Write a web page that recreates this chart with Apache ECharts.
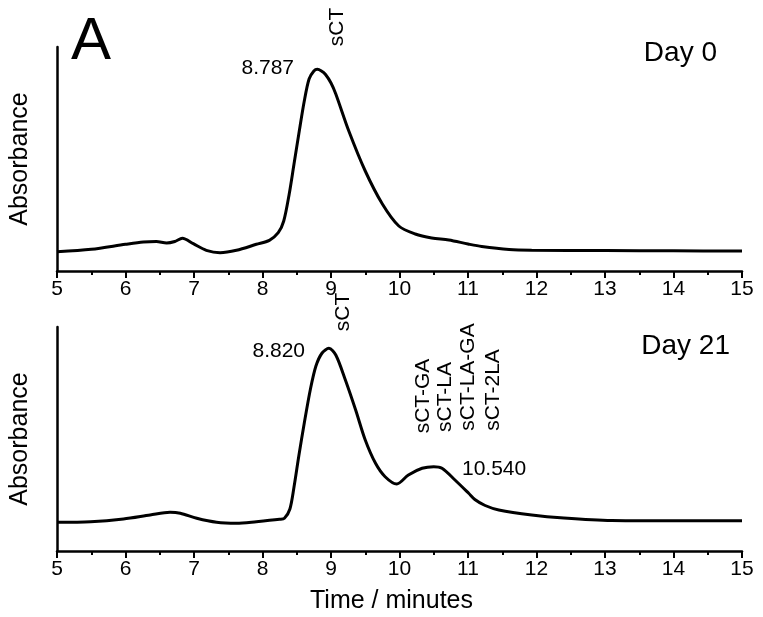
<!DOCTYPE html>
<html>
<head>
<meta charset="utf-8">
<script src="https://cdn.jsdelivr.net/npm/echarts@6/dist/echarts.min.js"></script>
<style>
  html, body { margin: 0; padding: 0; background: #fff; }
  #chart { width: 763px; height: 617px; }
</style>
</head>
<body>
<div id="chart"></div>
<script>
// retention time (min) and absorbance (arbitrary units)
const timeDay0 = [5.0, 5.5, 6.0, 6.26, 6.45, 6.6, 6.72, 6.83, 6.99, 7.18, 7.38, 7.62, 7.91, 8.1, 8.23, 8.31, 8.39, 8.46, 8.53, 8.61, 8.68, 8.75, 8.8, 8.86, 8.92, 9.0, 9.07, 9.26, 9.5, 9.75, 9.99, 10.23, 10.47, 10.72, 11.0, 11.2, 11.6, 11.93, 13.0, 14.0, 15.0]
const absDay0 = [19.3, 21.7, 26.7, 29, 29.5, 28, 29.5, 32.7, 27.3, 20.7, 18.3, 20.7, 26.7, 30.7, 38.3, 50, 77, 107, 137, 170, 192, 200, 201.7, 200, 196.5, 188, 177, 140, 100, 67, 45, 37, 33, 31, 27, 24.5, 21.5, 20.8, 20.5, 20.2, 20.0]

const timeDay21 = [5.0, 5.49, 5.97, 6.36, 6.65, 6.8, 7.04, 7.33, 7.62, 7.91, 8.25, 8.32, 8.4, 8.46, 8.53, 8.61, 8.7, 8.78, 8.87, 8.97, 9.07, 9.21, 9.36, 9.5, 9.65, 9.79, 9.96, 10.13, 10.33, 10.5, 10.62, 10.81, 11.01, 11.1, 11.25, 11.45, 11.93, 12.4, 13.1, 13.6, 15.0]
const absDay21 = [28.7, 29.3, 32, 36, 38.7, 37.7, 32.7, 28.7, 27.7, 29.3, 31.7, 32.7, 42, 64, 95, 128, 162, 185, 198, 202.7, 196, 171, 141, 111, 87.7, 74.3, 67, 76, 82.7, 84.3, 82.7, 71, 57.7, 51.5, 45.5, 41, 36, 33, 30.5, 30.3, 30.3]

const xTicks = [5, 6, 7, 8, 9, 10, 11, 12, 13, 14, 15]

const FONT = 'Liberation Sans, Arial, sans-serif'

const pairs = (xs, ys) => xs.map((x, i) => [x, ys[i]])

function xAxisFor(gridIndex, withName) {
  return {
    type: 'value',
    gridIndex: gridIndex,
    min: xTicks[0],
    max: xTicks[xTicks.length - 1],
    interval: 1,
    name: withName ? 'Time / minutes' : '',
    nameLocation: 'middle',
    nameGap: 38,
    nameTextStyle: { fontFamily: FONT, fontSize: 25, color: '#000', padding: [0, 16, 0, 0] },
    axisLine: { show: true, onZero: false, lineStyle: { color: '#000', width: 2.5 } },
    axisTick: { show: true, inside: false, length: 7, lineStyle: { color: '#000', width: 2 } },
    minorTick: { show: true, splitNumber: 2, length: 4, lineStyle: { color: '#000', width: 2 } },
    axisLabel: { color: '#000', fontFamily: FONT, fontSize: 21, margin: 8 },
    splitLine: { show: false }
  }
}

function yAxisFor(gridIndex) {
  return {
    type: 'value',
    gridIndex: gridIndex,
    min: 0,
    max: 224,
    name: 'Absorbance',
    nameLocation: 'middle',
    nameRotate: 90,
    nameGap: 24,
    nameTextStyle: { fontFamily: FONT, fontSize: 25, color: '#000' },
    axisLine: { show: true, lineStyle: { color: '#000', width: 2.5 } },
    axisTick: { show: false },
    axisLabel: { show: false },
    splitLine: { show: false }
  }
}

function lineSeries(idx, data) {
  return {
    type: 'line',
    xAxisIndex: idx,
    yAxisIndex: idx,
    data: data,
    smooth: 0.3,
    showSymbol: false,
    silent: true,
    lineStyle: { color: '#000', width: 3 }
  }
}

function txt(x, y, text, opts) {
  return {
    type: 'text',
    x: x,
    y: y,
    rotation: opts && opts.rotate ? Math.PI / 2 : 0,
    style: {
      text: text,
      fill: '#000',
      font: ((opts && opts.size) || 21) + 'px ' + FONT,
      textAlign: (opts && opts.align) || 'center',
      textVerticalAlign: 'middle'
    }
  }
}

const chart = echarts.init(document.getElementById('chart'))
chart.setOption({
  backgroundColor: '#fff',
  animation: false,
  grid: [
    { left: 54, top: 47, width: 688, height: 224 },
    { left: 54, top: 327, width: 688, height: 224 }
  ],
  xAxis: [xAxisFor(0, false), xAxisFor(1, true)],
  yAxis: [yAxisFor(0), yAxisFor(1)],
  series: [
    lineSeries(0, pairs(timeDay0, absDay0)),
    lineSeries(1, pairs(timeDay21, absDay21))
  ],
  graphic: [
    txt(91, 42, 'A', { size: 60 }),
    txt(337, 27, 'sCT', { rotate: true }),
    txt(294, 68, '8.787', { align: 'right' }),
    txt(717, 53, 'Day 0', { size: 28, align: 'right' }),
    txt(343, 312, 'sCT', { rotate: true }),
    txt(305, 351, '8.820', { align: 'right' }),
    txt(462, 469, '10.540', { align: 'left' }),
    txt(730, 346, 'Day 21', { size: 28, align: 'right' }),
    txt(423, 396, 'sCT-GA', { rotate: true }),
    txt(445, 397, 'sCT-LA', { rotate: true }),
    txt(468, 377, 'sCT-LA-GA', { rotate: true }),
    txt(493, 390, 'sCT-2LA', { rotate: true })
  ]
})
</script>
</body>
</html>
